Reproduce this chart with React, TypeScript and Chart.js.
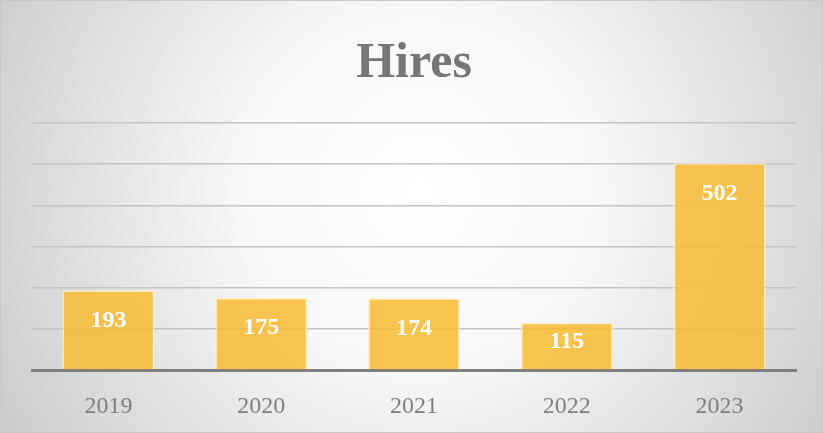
import React, { useEffect, useRef } from "react";
import { Chart, registerables } from "chart.js";

Chart.register(...registerables);

const categories = ["2019", "2020", "2021", "2022", "2023"];
const hires = [193, 175, 174, 115, 502];
const yTicks = [0, 100, 200, 300, 400, 500, 600];

const bgPlugin = {
  id: "bgPlugin",
  beforeDraw(chart: any) {
    const { ctx, width, height } = chart;
    ctx.save();
    const g = ctx.createRadialGradient(420, 190, 0, 420, 190, 520);
    g.addColorStop(0, "#ffffff");
    g.addColorStop(0.35, "#f7f7f7");
    g.addColorStop(1, "#c6c6c6");
    ctx.fillStyle = g;
    ctx.fillRect(0, 0, width, height);
    ctx.strokeStyle = "#c8c8c8";
    ctx.lineWidth = 1;
    ctx.strokeRect(0.5, 0.5, width - 1, height - 1);
    ctx.restore();
  },
};

const labelPlugin = {
  id: "labelPlugin",
  afterDatasetsDraw(chart: any) {
    const { ctx } = chart;
    const meta = chart.getDatasetMeta(0);
    ctx.save();
    ctx.font = "bold 24px 'Liberation Serif', serif";
    ctx.fillStyle = "#ffffff";
    ctx.textAlign = "center";
    ctx.textBaseline = "middle";
    meta.data.forEach((bar: any, i: number) => {
      const top = bar.y;
      const base = bar.base;
      const y = Math.min(top + 30, (top + base) / 2 - 4);
      ctx.fillText(String(hires[i]), bar.x, y);
    });
    ctx.restore();
  },
};

export default function App() {
  const ref = useRef<HTMLCanvasElement>(null);
  useEffect(() => {
    if (!ref.current) return;
    const chart = new Chart(ref.current, {
      type: "bar",
      data: {
        labels: categories,
        datasets: [
          {
            data: hires,
            backgroundColor: "rgba(248,186,48,0.85)",
            borderColor: "rgba(255,238,190,0.9)",
            borderWidth: 1.5,
            barPercentage: 0.6,
            categoryPercentage: 1,
          },
        ],
      },
      options: {
        responsive: false,
        animation: false,
        layout: { padding: { left: 32, right: 27, top: 0, bottom: 0 } },
        plugins: {
          legend: { display: false },
          tooltip: { enabled: false },
          title: {
            display: true,
            text: "Hires",
            color: "#767676",
            font: { family: "'Liberation Serif', serif", size: 50, weight: "bold", lineHeight: 1.2 },
            padding: { top: 34, bottom: 29 },
          },
        },
        scales: {
          x: {
            grid: { display: false, drawTicks: false },
            border: { display: true, color: "#7f7f7f", width: 3 },
            ticks: {
              color: "#7f7f7f",
              padding: 22,
              maxRotation: 0,
              font: { family: "'Liberation Serif', serif", size: 24 },
            },
            afterFit(axis: any) {
              axis.height = 63;
            },
          },
          y: {
            min: yTicks[0],
            max: yTicks[yTicks.length - 1],
            afterBuildTicks(axis: any) {
              axis.ticks = yTicks.map((v) => ({ value: v }));
            },
            grid: { color: "#c4c4c4", lineWidth: 1.5, drawTicks: false },
            border: { display: false },
            ticks: { display: false },
          },
        },
      },
      plugins: [bgPlugin, labelPlugin],
    });
    return () => chart.destroy();
  }, []);
  return (
    <div style={{ position: "fixed", left: 0, top: 0, width: 823, height: 433 }}>
      <canvas ref={ref} width={823} height={433} />
    </div>
  );
}
